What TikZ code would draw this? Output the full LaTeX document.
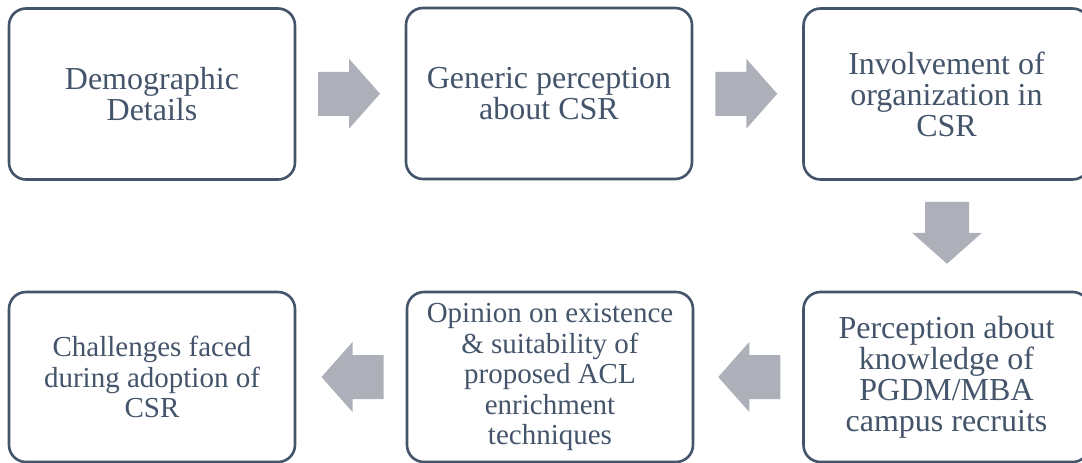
\documentclass[tikz,border=0pt]{standalone}
\usepackage{fontspec}
\setmainfont{Liberation Serif}
\usetikzlibrary{calc}
\definecolor{boxline}{RGB}{68,84,106}
\definecolor{arrowgray}{RGB}{173,176,184}
\tikzset{
  stepbox/.style={draw=boxline, line width=2.6pt, rounded corners=17pt, fill=white,
    minimum width=286pt, minimum height=171pt, inner sep=0pt, align=center,
    text=boxline, font=\fontsize{32}{31}\selectfont},
  smalltext/.style={font=\fontsize{29}{30.5}\selectfont},
  blockarrow/.pic={\fill[arrowgray] (-31,-22) -- (0,-22) -- (0,-35) -- (31,0) -- (0,35) -- (0,22) -- (-31,22) -- cycle;}
}
\begin{document}
\begin{tikzpicture}[x=1pt,y=-1pt]
\useasboundingbox (0,0) rectangle (1082,463);
\begin{scope}
\clip (0,0) rectangle (1082,463);
\node[stepbox] (b1) at (152,94) {Demographic\\Details};
\node[stepbox] (b2) at (549,93.5) {Generic perception\\about CSR};
\node[stepbox] (b3) at (946.5,94) {Involvement of\\organization in\\CSR};
\node[stepbox, minimum height=170pt] (b4) at (946.5,377) {Perception about\\knowledge of\\PGDM/MBA\\campus recruits};
\node[stepbox, smalltext, minimum height=170pt] (b5) at (550,377) {Opinion on existence\\\& suitability of\\proposed ACL\\enrichment\\techniques};
\node[stepbox, smalltext, minimum height=170pt] (b6) at (152,377) {Challenges faced\\during adoption of\\CSR};
\end{scope}
\pic at ($(b1.east)!0.5!(b2.west)+(-1.5,0)$) {blockarrow};
\pic at ($(b2.east)!0.5!(b3.west)+(-1.5,0)$) {blockarrow};
\pic[rotate=-90] at ($(b3.south)!0.5!(b4.north)+(0.5,-3)$) {blockarrow};
\pic[rotate=180] at ($(b4.west)!0.5!(b5.east)+(1,0)$) {blockarrow};
\pic[rotate=180] at ($(b5.west)!0.5!(b6.east)+(1.5,0)$) {blockarrow};
\end{tikzpicture}
\end{document}
